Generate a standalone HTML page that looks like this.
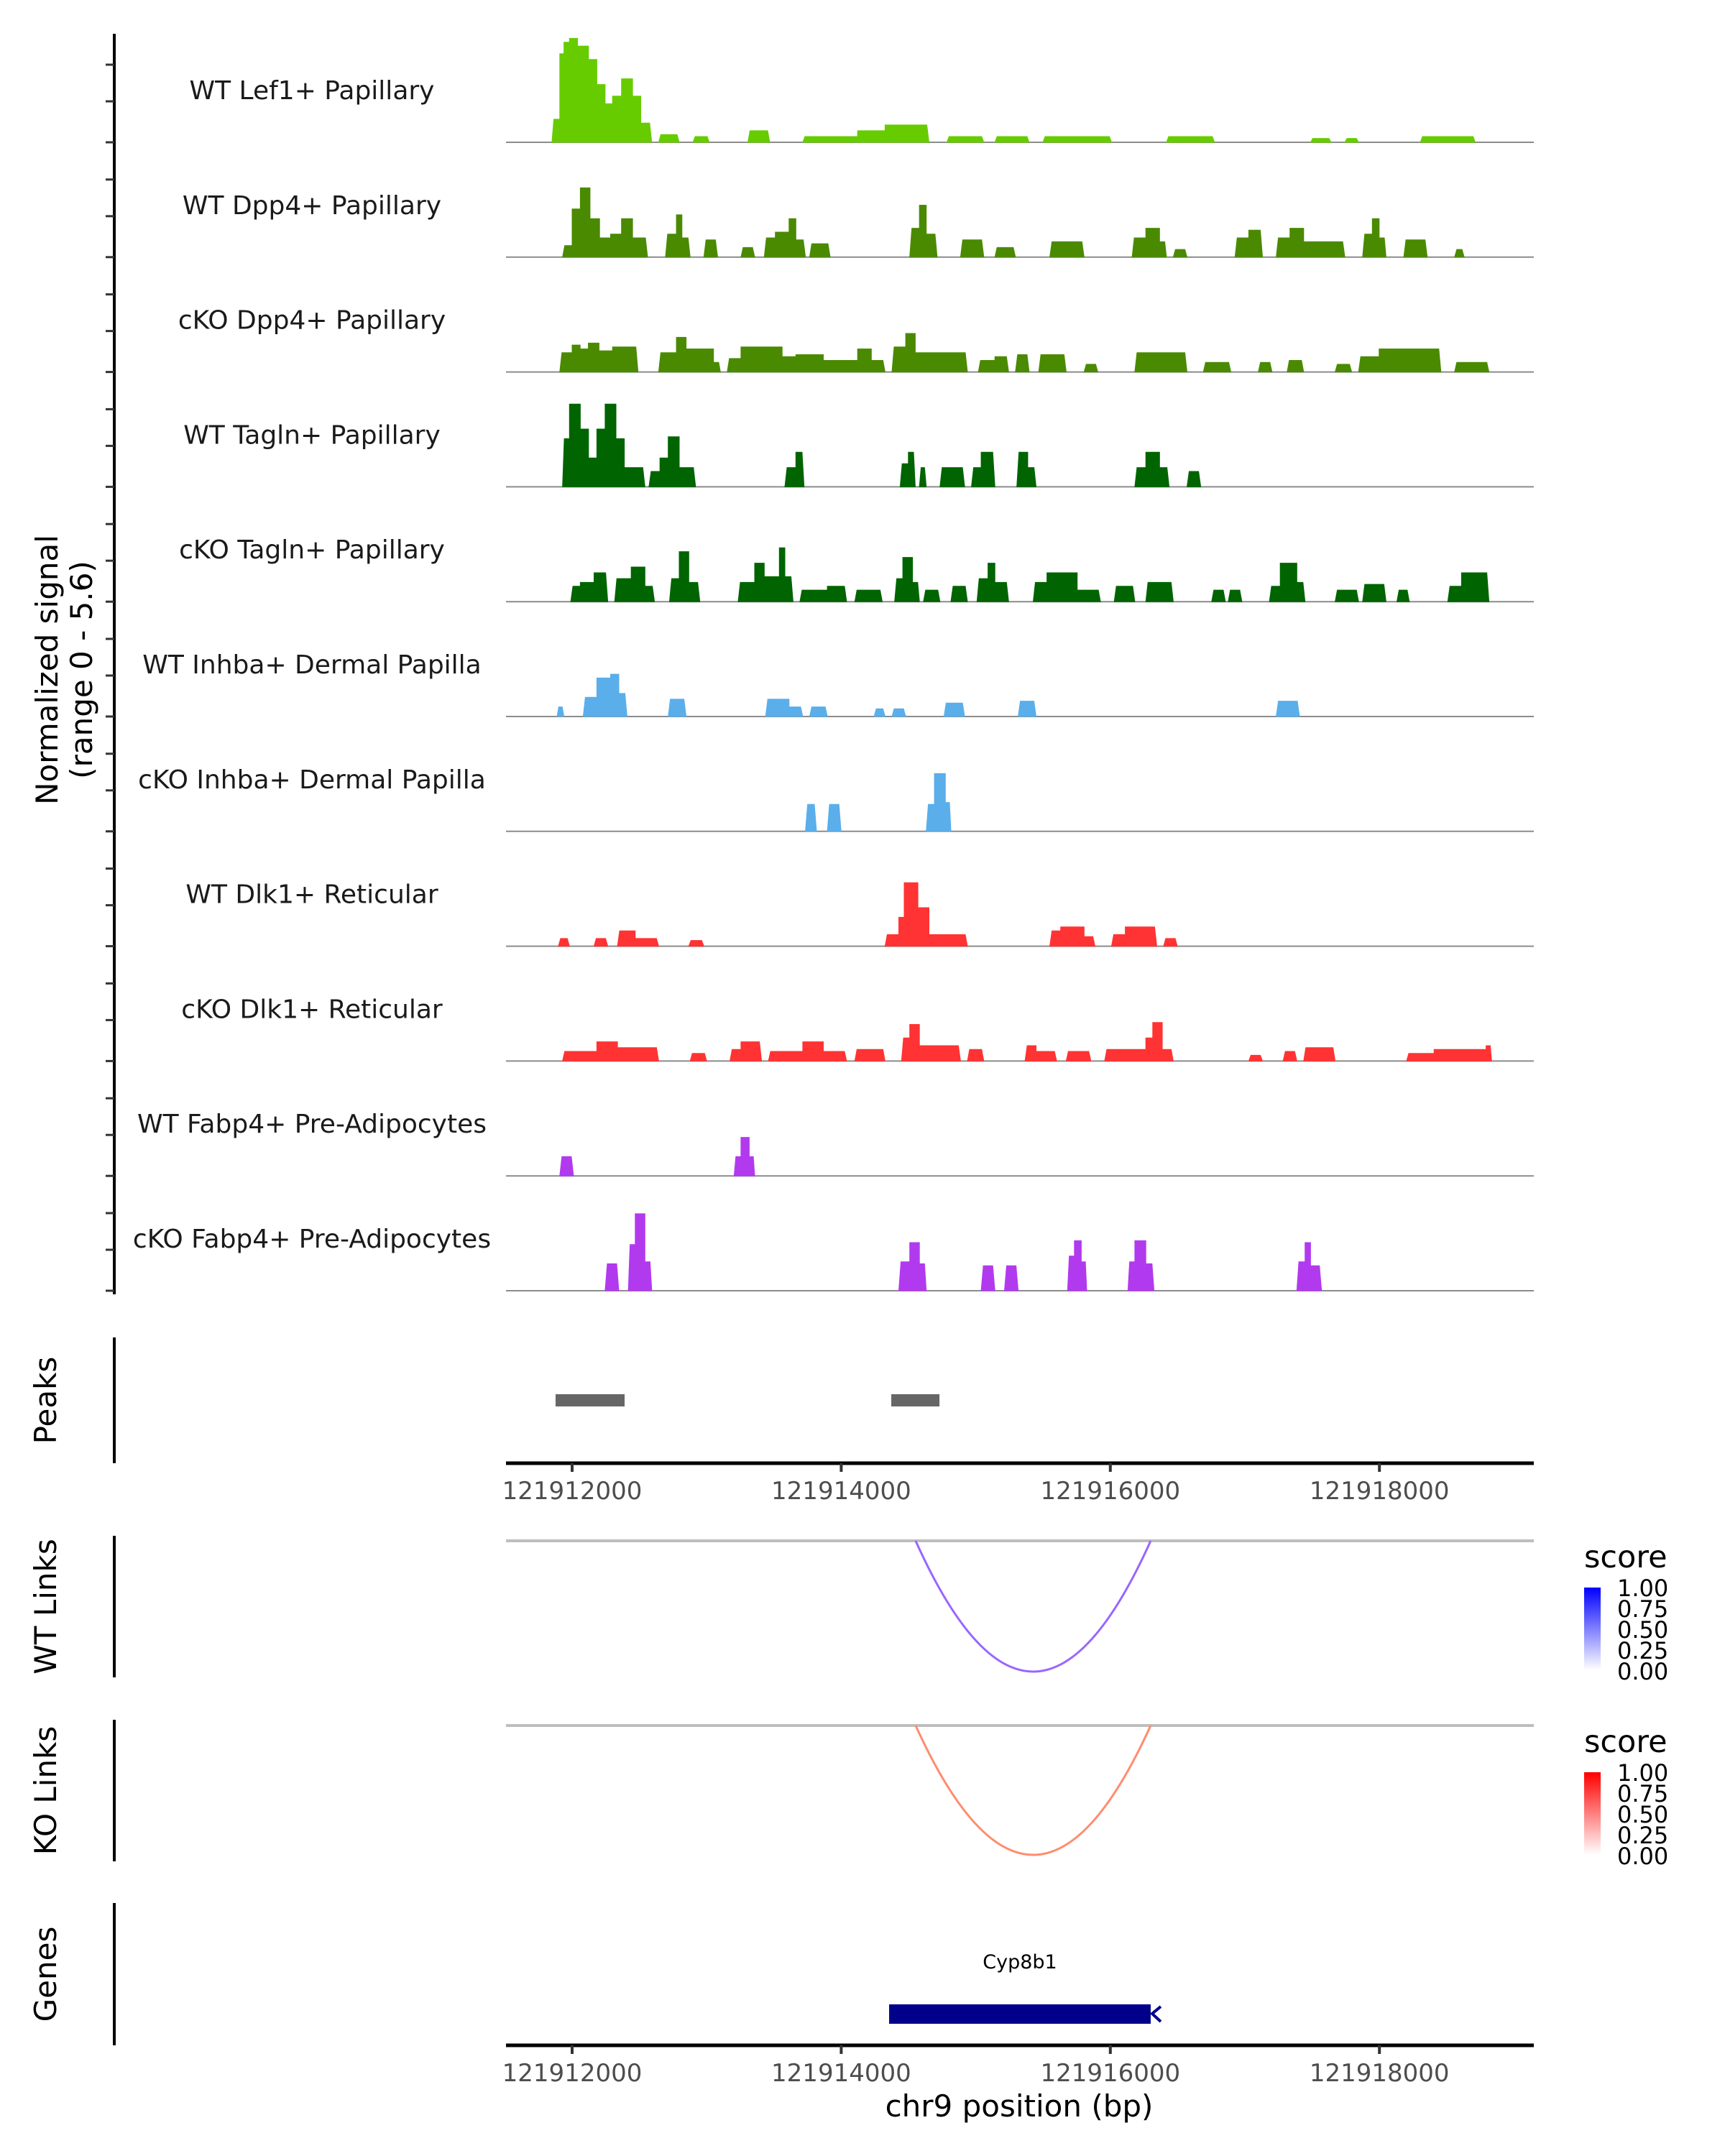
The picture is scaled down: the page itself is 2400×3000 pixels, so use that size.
<!DOCTYPE html>
<html><head><meta charset="utf-8"><style>
html,body{margin:0;padding:0;background:#fff}
svg{display:block}
text{font-family:"DejaVu Sans","Liberation Sans",sans-serif}
</style></head><body>
<svg id="chart" xmlns="http://www.w3.org/2000/svg" width="2400" height="3000" viewBox="0 0 2400 3000">
<g id="tracks"></g>
<g id="lower"></g>
</svg>
<script>
const CHR_REF = 121912000;
const trackNames = ["WT Lef1+ Papillary","WT Dpp4+ Papillary","cKO Dpp4+ Papillary","WT Tagln+ Papillary","cKO Tagln+ Papillary","WT Inhba+ Dermal Papilla","cKO Inhba+ Dermal Papilla","WT Dlk1+ Reticular","cKO Dlk1+ Reticular","WT Fabp4+ Pre-Adipocytes","cKO Fabp4+ Pre-Adipocytes"];
const trackColors = ["#66cc00","#4a8a00","#4a8a00","#006400","#006400","#5aaeea","#5aaeea","#ff3333","#ff3333","#b23aee","#b23aee"];
// segments: [start offset bp, end offset bp, signal]
const sigLef1 = [[-150,-92,1.2],[-92,-61,4.6],[-61,-20,5.2],[-20,40,5.4],[40,122,5.0],[122,184,4.3],[184,245,3.0],[245,300,2.0],[300,367,2.4],[367,449,3.3],[449,510,2.4],[510,592,1.0],[643,796,0.4],[898,1020,0.3],[1306,1469,0.6],[1714,2122,0.3],[2122,2326,0.6],[2326,2652,0.9],[2785,3060,0.3],[3142,3397,0.3],[3499,4009,0.3],[4417,4774,0.3],[5488,5641,0.2],[5743,5845,0.2],[6304,6712,0.3]];
const sigDpp4WT = [[-71,0,0.6],[0,61,2.5],[61,133,3.6],[133,204,2.0],[204,286,1.0],[286,367,1.2],[367,449,2.0],[449,561,1.0],[694,775,1.2],[775,816,2.2],[816,877,1.0],[979,1081,0.9],[1255,1357,0.5],[1428,1510,1.0],[1510,1612,1.3],[1612,1663,2.0],[1663,1734,0.9],[1765,1918,0.7],[2509,2581,1.5],[2581,2632,2.7],[2632,2713,1.2],[2887,3060,0.9],[3142,3295,0.5],[3550,3805,0.8],[4162,4264,1.0],[4264,4366,1.5],[4366,4417,0.8],[4468,4570,0.4],[4927,5029,1.0],[5029,5131,1.4],[5233,5335,1.0],[5335,5437,1.5],[5437,5743,0.8],[5875,5947,1.2],[5947,5998,2.0],[5998,6049,1.0],[6181,6355,0.9],[6559,6630,0.4]];
const sigDpp4KO = [[-92,0,1.0],[0,60,1.4],[60,120,1.2],[120,200,1.5],[200,300,1.1],[300,490,1.3],[643,775,1.0],[775,847,1.8],[847,1051,1.2],[1051,1102,0.5],[1153,1255,0.7],[1255,1561,1.3],[1561,1663,0.8],[1663,1867,0.9],[1867,2122,0.6],[2122,2224,1.2],[2224,2326,0.6],[2377,2479,1.3],[2479,2550,2.0],[2550,2938,1.0],[3019,3142,0.6],[3142,3244,0.8],[3295,3397,0.9],[3468,3672,0.9],[3805,3907,0.4],[4182,4570,1.0],[4692,4896,0.5],[5100,5202,0.5],[5314,5437,0.6],[5671,5794,0.4],[5845,5998,0.8],[5998,6457,1.2],[6559,6814,0.5]];
const sigTaglnWT = [[-71,-20,2.5],[-20,61,4.3],[61,122,3.0],[122,184,1.5],[184,245,3.0],[245,326,4.3],[326,388,2.5],[388,541,1.0],[571,653,0.8],[653,714,1.5],[714,796,2.6],[796,918,1.0],[1581,1663,1.0],[1663,1724,1.8],[2438,2499,1.2],[2499,2550,1.8],[2581,2632,1.0],[2734,2917,1.0],[2968,3040,1.0],[3040,3142,1.8],[3305,3386,1.8],[3386,3448,1.0],[4182,4264,1.0],[4264,4366,1.8],[4366,4437,1.0],[4570,4672,0.8]];
const sigTaglnKO = [[-10,61,0.8],[61,163,1.0],[163,265,1.5],[316,439,1.2],[439,541,1.8],[541,612,0.8],[724,796,1.2],[796,867,2.6],[867,949,1.0],[1234,1357,1.0],[1357,1428,2.0],[1428,1540,1.3],[1540,1581,2.8],[1581,1642,1.3],[1693,1897,0.6],[1897,2040,0.8],[2101,2305,0.6],[2397,2458,1.2],[2458,2530,2.3],[2530,2581,1.0],[2611,2734,0.6],[2815,2938,0.8],[3009,3091,1.2],[3091,3142,2.0],[3142,3244,1.0],[3427,3529,1.0],[3529,3754,1.5],[3754,3927,0.6],[4029,4182,0.8],[4264,4468,1.0],[4753,4855,0.6],[4876,4978,0.6],[5182,5263,0.8],[5263,5386,2.0],[5386,5447,1.0],[5671,5845,0.6],[5875,6049,0.9],[6130,6222,0.6],[6508,6610,0.8],[6610,6814,1.5]];
const sigInhbaWT = [[-112,-61,0.5],[82,184,1.0],[184,286,2.0],[286,347,2.2],[347,408,1.2],[714,847,0.9],[1438,1612,0.9],[1612,1714,0.5],[1765,1897,0.5],[2244,2326,0.4],[2377,2479,0.4],[2764,2917,0.7],[3315,3448,0.8],[5233,5406,0.8]];
const sigInhbaKO = [[1734,1816,1.4],[1897,1999,1.4],[2632,2693,1.4],[2693,2774,3.0],[2774,2815,1.5]];
const sigDlk1WT = [[-102,-20,0.4],[163,265,0.4],[337,469,0.8],[469,643,0.4],[867,979,0.3],[2326,2428,0.6],[2428,2468,1.5],[2468,2570,3.3],[2570,2652,2.0],[2652,2836,0.6],[2836,2938,0.6],[3550,3631,0.8],[3631,3805,1.0],[3805,3886,0.5],[4009,4111,0.6],[4111,4345,1.0],[4396,4498,0.4]];
const sigDlk1KO = [[-71,184,0.5],[184,337,1.0],[337,643,0.7],[877,1000,0.4],[1173,1255,0.6],[1255,1408,1.0],[1459,1714,0.5],[1714,1867,1.0],[1867,2040,0.5],[2101,2326,0.6],[2448,2509,1.2],[2509,2581,1.9],[2581,2887,0.8],[2938,3060,0.6],[3366,3448,0.8],[3448,3601,0.5],[3672,3856,0.5],[3958,4264,0.6],[4264,4315,1.2],[4315,4386,2.0],[4386,4468,0.6],[5029,5131,0.3],[5284,5386,0.5],[5437,5671,0.7],[6202,6406,0.4],[6406,6793,0.6],[6793,6834,0.8]];
const sigFabp4WT = [[-92,10,1.0],[1204,1255,1.0],[1255,1316,2.0],[1316,1357,1.0]];
const sigFabp4KO = [[245,347,1.4],[418,469,2.4],[469,541,4.0],[541,592,1.5],[2428,2509,1.5],[2509,2581,2.5],[2581,2632,1.4],[3040,3142,1.3],[3213,3315,1.3],[3682,3733,1.8],[3733,3784,2.6],[3784,3825,1.5],[4131,4182,1.5],[4182,4264,2.6],[4264,4325,1.4],[5386,5447,1.5],[5447,5488,2.5],[5488,5570,1.3]];
const allSignals = [sigLef1,sigDpp4WT,sigDpp4KO,sigTaglnWT,sigTaglnKO,sigInhbaWT,sigInhbaKO,sigDlk1WT,sigDlk1KO,sigFabp4WT,sigFabp4KO];
const peakStarts = [-123, 2372];
const peakEnds = [390, 2730];
const axisTicks = [121912000,121914000,121916000,121918000];
const linkStartWT = 121914553, linkEndWT = 121916300, linkScoreWT = 0.6;
const linkStartKO = 121914553, linkEndKO = 121916300, linkScoreKO = 0.6;
const geneName = "Cyp8b1", geneStart = 121914356, geneEnd = 121916300;
const legendLabels = ["1.00","0.75","0.50","0.25","0.00"];
const SIG_MAX = 5.6;

const NS="http://www.w3.org/2000/svg";
function mk(tag, attrs, parent, txt){const e=document.createElementNS(NS,tag);for(const k in attrs)e.setAttribute(k,attrs[k]);if(txt!==undefined)e.textContent=txt;parent.appendChild(e);return e;}
const X0=704, X1=2134;
function xs(bp){return 796+(bp-CHR_REF)*0.1872;}
function xo(off){return xs(CHR_REF+off);}
function baseY(i){return 198+i*159.8;}
function hy(v){return v/SIG_MAX*150;}

const tg=document.getElementById('tracks');
const lo=document.getElementById('lower');
let ax=mk('line',{x1:159,y1:47,x2:159,y2:1801,stroke:'#000','stroke-width':4},tg);


for(let i=0;i<11;i++){
  const b=baseY(i);
  for(const d of [0,57,108]){
    const t=mk('line',{x1:147,y1:b-d,x2:159,y2:b-d,stroke:'#333','stroke-width':3},tg);
    
    
  }
  const lab=mk('text',{x:434,y:b-60,'font-size':36,'text-anchor':'middle',fill:'#1a1a1a'},tg,trackNames[i]);
  
  
  const bl=mk('line',{x1:X0,y1:b,x2:X1,y2:b,stroke:'#8c8c8c','stroke-width':2},tg);
  
  
  let d='', prevEnd=null;
  const segs=allSignals[i];
  segs.forEach((s,k)=>{
    const a=xo(s[0]), c=xo(s[1]), y=(b-hy(s[2])).toFixed(1);
    const r=Math.min(3,(c-a)/4);
    if(prevEnd===null || s[0]!==prevEnd){
      d+=`M${a.toFixed(1)},${b}L${(a+r).toFixed(1)},${y}`;
    } else {
      d+=`L${a.toFixed(1)},${y}`;
    }
    const next=segs[k+1];
    if(next && next[0]===s[1]){
      d+=`L${c.toFixed(1)},${y}`;
    } else {
      d+=`L${(c-r).toFixed(1)},${y}L${c.toFixed(1)},${b}Z`;
    }
    prevEnd=s[1];
  });
  const p=mk('path',{d:d,fill:trackColors[i],stroke:trackColors[i],'stroke-width':1},tg);
  
  
}
let yt=mk('text',{transform:'translate(80,932) rotate(-90)','font-size':42,'text-anchor':'middle',fill:'#000'},tg,'Normalized signal');


let yt2=mk('text',{transform:'translate(128,932) rotate(-90)','font-size':42,'text-anchor':'middle',fill:'#000'},tg,'(range 0 - 5.6)');



function sideAxis(y1,y2,label,name){
  const l=mk('line',{x1:159,y1:y1,x2:159,y2:y2,stroke:'#000','stroke-width':4},lo);
  
  
  const t=mk('text',{transform:`translate(78,${(y1+y2)/2}) rotate(-90)`,'font-size':42,'text-anchor':'middle',fill:'#000'},lo,label);
  
  
}
sideAxis(1861,2036,'Peaks','peaks');
sideAxis(2137,2334,'WT Links','wt-links');
sideAxis(2393,2590,'KO Links','ko-links');
sideAxis(2648,2846,'Genes','genes');

for(let k=0;k<peakStarts.length;k++){
  const r=mk('rect',{x:xo(peakStarts[k]),y:1940,width:xo(peakEnds[k])-xo(peakStarts[k]),height:17,fill:'#666'},lo);
  
  
}
function xAxis(y,name){
  const l=mk('line',{x1:X0,y1:y,x2:X1,y2:y,stroke:'#000','stroke-width':5},lo);
  
  
  for(const t of axisTicks){
    const tk=mk('line',{x1:xs(t),y1:y,x2:xs(t),y2:y+12,stroke:'#333','stroke-width':4},lo);
    
    
    const tl=mk('text',{x:xs(t),y:y+50,'font-size':34,'text-anchor':'middle',fill:'#4d4d4d'},lo,String(t));
    
    
  }
}
xAxis(2036,'peaks-x-axis');
xAxis(2846,'genes-x-axis');
let xt=mk('text',{x:1418,y:2945,'font-size':42,'text-anchor':'middle',fill:'#000'},lo,'chr9 position (bp)');



function links(top,bottom,s,e,color,name){
  const g=mk('line',{x1:X0,y1:top,x2:X1,y2:top,stroke:'#bebebe','stroke-width':4},lo);
  
  
  const a=xs(s), b=xs(e), cy=2*bottom-top;
  const p=mk('path',{d:`M${a},${top}Q${(a+b)/2},${cy} ${b},${top}`,fill:'none',stroke:color,'stroke-width':3},lo);
  
  
}
links(2144,2326,linkStartWT,linkEndWT,'#9966ff','wt-link');
links(2401,2581,linkStartKO,linkEndKO,'#ff8c6e','ko-link');

const defs=mk('defs',{},lo);
const gb=mk('linearGradient',{id:'gb',x1:0,y1:0,x2:0,y2:1},defs);
mk('stop',{offset:0,'stop-color':'#0000ff'},gb);mk('stop',{offset:1,'stop-color':'#ffffff'},gb);
const gr=mk('linearGradient',{id:'gr',x1:0,y1:0,x2:0,y2:1},defs);
mk('stop',{offset:0,'stop-color':'#ff0000'},gr);mk('stop',{offset:1,'stop-color':'#ffffff'},gr);
function legend(y0,grad,name){
  const t=mk('text',{x:2204,y:y0+14,'font-size':43,fill:'#000'},lo,'score');
  
  
  const r=mk('rect',{x:2204,y:y0+42,width:23,height:115,fill:`url(#${grad})`},lo);
  
  
  legendLabels.forEach((l,i)=>{
    const tx=mk('text',{x:2250,y:y0+42+i*29+12,'font-size':32,fill:'#000'},lo,l);
    
    
  });
}
legend(2167,'gb','wt-legend');
legend(2424,'gr','ko-legend');

const gbar=mk('rect',{x:xs(geneStart),y:2789,width:xs(geneEnd)-xs(geneStart),height:27,fill:'#00008b'},lo);


const arr=mk('path',{d:`M${xs(geneEnd)+14},2792L${xs(geneEnd)+2},2802L${xs(geneEnd)+14},2813`,fill:'none',stroke:'#00008b','stroke-width':4},lo);


const gl=mk('text',{x:(xs(geneStart)+xs(geneEnd))/2,y:2739,'font-size':27,'text-anchor':'middle',fill:'#000'},lo,geneName);


</script>
</body></html>
